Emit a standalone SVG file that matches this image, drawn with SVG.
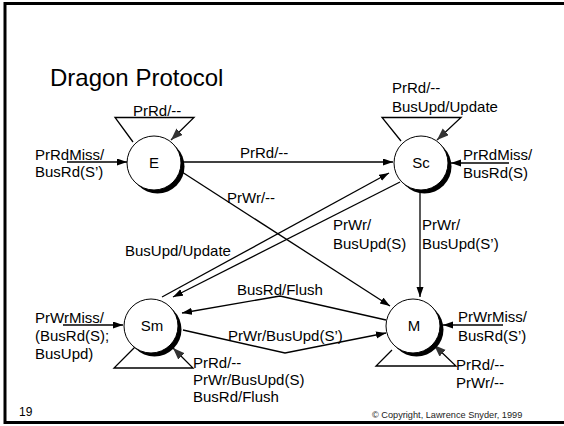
<svg xmlns="http://www.w3.org/2000/svg" width="564" height="426" viewBox="0 0 564 426">
  <style>
    .frame { stroke: #000; stroke-width: 3; fill: none; }
    .edge { stroke: #000; stroke-width: 1.3; fill: none; marker-end: url(#arrow); }
    .loop { stroke: #000; stroke-width: 1.3; fill: none; marker-end: url(#arrowLoop); }
    .ring { fill: #fff; stroke: #000; stroke-width: 1; }
    .shadow { fill: #000; }
    text { font-family: "Liberation Sans", Arial, sans-serif; fill: #000; }
    .lbl { font-size: 15px; }
    .state { font-size: 15px; text-anchor: middle; }
    .title { font-size: 24px; }
    .small { font-size: 9.2px; fill: #222; }
    .num { font-size: 12px; }
  </style>
  <defs>
    <marker id="arrow" markerUnits="userSpaceOnUse" markerWidth="11" markerHeight="8" refX="10" refY="3.5" orient="auto">
      <path d="M0,0 L10,3.5 L0,7 z" fill="#000"/>
    </marker>
    <marker id="arrowLoop" markerUnits="userSpaceOnUse" markerWidth="13" markerHeight="10" refX="12" refY="4.5" orient="auto">
      <path d="M0,0 L12,4.5 L0,9 z" fill="#333"/>
    </marker>
  </defs>

  <!-- slide frame -->
  <path class="frame" d="M4,3.5 H564 M5,2 V424 M4,422.5 H564"/>

  <text class="title" x="50" y="86">Dragon Protocol</text>

  <!-- transitions -->
  <g id="connectors">
    <path class="loop" d="M133,142 L115,117.5 L194,117.5 L171,140"/>
    <path class="edge" d="M67,162 L127,162"/>
    <path class="edge" d="M181,162 L393,162"/>
    <path class="edge" d="M182,172 L390,306"/>
    <path class="loop" d="M401,141 L382,117.5 L461,117.5 L437,140"/>
    <path class="edge" d="M509,163 L451,163"/>
    <path class="edge" d="M420,190 L420,297"/>
    <path class="edge" d="M162,297 L389,173"/>
    <path class="edge" d="M400,182 L173,297"/>
    <path class="edge" d="M386,320 L280,296 L182,313"/>
    <path class="edge" d="M183,330 L285,353 L386,333"/>
    <path class="loop" d="M135,347 L114,368 L193,368 L173,348"/>
    <path class="edge" d="M63,325 L123,325"/>
    <path class="loop" d="M392,350 L376,366 L456,366 L434,345"/>
    <path class="edge" d="M503,325 L443,325"/>
  </g>

  <!-- states -->
  <g id="state-E">
    <circle class="shadow" cx="157.5" cy="166.5" r="27"/>
    <circle class="ring" cx="154" cy="163" r="27"/>
    <text class="state" x="154" y="168">E</text>
  </g>
  <g id="state-Sc">
    <circle class="shadow" cx="424.5" cy="166.5" r="27"/>
    <circle class="ring" cx="421" cy="163" r="27"/>
    <text class="state" x="421" y="168">Sc</text>
  </g>
  <g id="state-Sm">
    <circle class="shadow" cx="154.5" cy="329.5" r="27"/>
    <circle class="ring" cx="151" cy="326" r="27"/>
    <text class="state" x="152" y="331">Sm</text>
  </g>
  <g id="state-M">
    <circle class="shadow" cx="416.5" cy="329.5" r="27"/>
    <circle class="ring" cx="413" cy="326" r="27"/>
    <text class="state" x="414" y="331">M</text>
  </g>

  <!-- transition labels -->
  <g id="labels">
    <text class="lbl" x="133" y="116">PrRd/--</text>
    <text class="lbl" x="35" y="160">PrRdMiss/</text>
    <text class="lbl" x="35" y="177">BusRd(S’)</text>
    <text class="lbl" x="240" y="158">PrRd/--</text>
    <text class="lbl" x="227" y="203">PrWr/--</text>
    <text class="lbl" x="392" y="93">PrRd/--</text>
    <text class="lbl" x="392" y="112">BusUpd/Update</text>
    <text class="lbl" x="463" y="160">PrRdMiss/</text>
    <text class="lbl" x="463" y="178">BusRd(S)</text>
    <text class="lbl" x="333" y="230">PrWr/</text>
    <text class="lbl" x="333" y="249">BusUpd(S)</text>
    <text class="lbl" x="422" y="230">PrWr/</text>
    <text class="lbl" x="422" y="249">BusUpd(S’)</text>
    <text class="lbl" x="125" y="256">BusUpd/Update</text>
    <text class="lbl" x="237" y="295">BusRd/Flush</text>
    <text class="lbl" x="228" y="341">PrWr/BusUpd(S’)</text>
    <text class="lbl" x="35" y="323">PrWrMiss/</text>
    <text class="lbl" x="35" y="341">(BusRd(S);</text>
    <text class="lbl" x="35" y="359">BusUpd)</text>
    <text class="lbl" x="193" y="368">PrRd/--</text>
    <text class="lbl" x="193" y="385">PrWr/BusUpd(S)</text>
    <text class="lbl" x="193" y="402">BusRd/Flush</text>
    <text class="lbl" x="458" y="322">PrWrMiss/</text>
    <text class="lbl" x="458" y="341">BusRd(S’)</text>
    <text class="lbl" x="456" y="370">PrRd/--</text>
    <text class="lbl" x="456" y="388">PrWr/--</text>
  </g>

  <text class="num" x="19" y="416">19</text>
  <text class="small" x="372" y="418">© Copyright, Lawrence Snyder, 1999</text>
</svg>
